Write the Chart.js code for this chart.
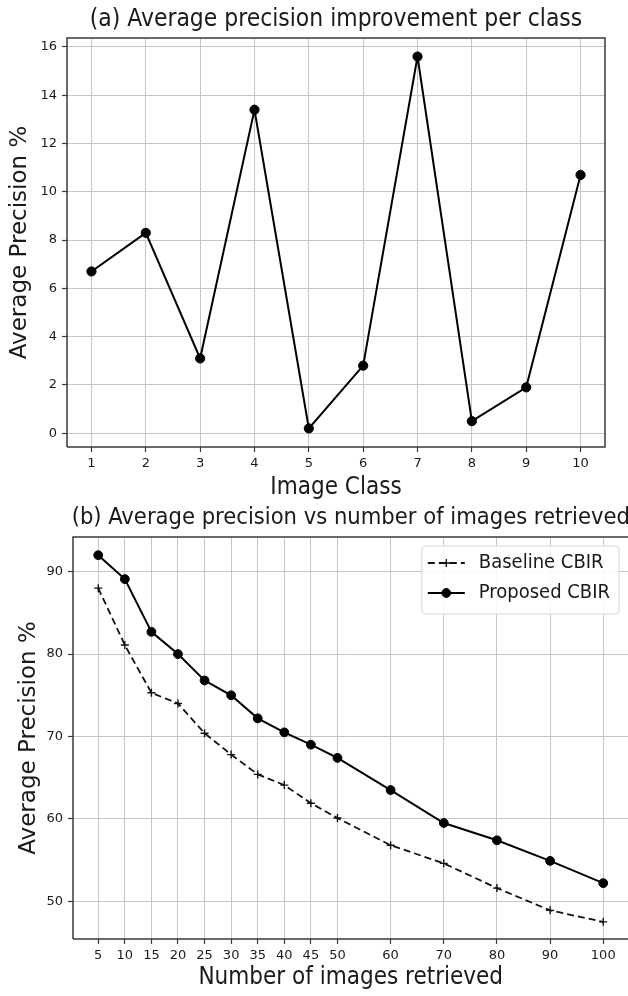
<!DOCTYPE html>
<html>
<head>
<meta charset="utf-8">
<script src="https://cdn.jsdelivr.net/npm/chart.js@4.4.1/dist/chart.umd.min.js"></script>
<style>
  html, body { margin: 0; padding: 0; background: #fff; }
  body { width: 628px; height: 996px; position: relative; overflow: hidden; }
  .box { position: absolute; left: 0; }
  #boxA { top: 0; width: 628px; height: 505px; }
  /* plot (b) runs off the right edge like the original figure */
  #boxB { top: 500px; width: 640px; height: 496px; }
</style>
</head>
<body>
<div class="box" id="boxA"><canvas id="chartA"></canvas></div>
<div class="box" id="boxB"><canvas id="chartB"></canvas></div>
<script>
// (a) improvement per class
const classes = [1, 2, 3, 4, 5, 6, 7, 8, 9, 10];
const improvement = [6.7, 8.3, 3.1, 13.4, 0.2, 2.8, 15.6, 0.5, 1.9, 10.7];
const yTicksA = [0, 2, 4, 6, 8, 10, 12, 14, 16];

// (b) precision vs number retrieved
const retrieved = [5, 10, 15, 20, 25, 30, 35, 40, 45, 50, 60, 70, 80, 90, 100];
const baseline = [88.0, 81.1, 75.3, 74.0, 70.4, 67.8, 65.4, 64.1, 61.9, 60.1, 56.8, 54.6, 51.6, 48.9, 47.5];
const proposed = [92.0, 89.1, 82.7, 80.0, 76.8, 75.0, 72.2, 70.5, 69.0, 67.4, 63.5, 59.5, 57.4, 54.9, 52.2];
const yTicksB = [50, 60, 70, 80, 90];

const COND = "'DejaVu Sans Condensed', 'DejaVu Sans', sans-serif";
const SANS = "'DejaVu Sans', sans-serif";
const INK = '#1a1a1a';
const GRID = '#c6c6c6';
const FRAME = '#3a3a3a';

// titles centred over the plot + frame sides the scales don't draw
const framePlugin = {
    id: 'frame',
    afterDraw(chart, args, opts) {
        let ctx = chart.ctx
        let a = chart.chartArea
        ctx.save()
        ctx.fillStyle = INK
        ctx.font = opts.titleFont
        ctx.textAlign = 'center'
        ctx.textBaseline = 'middle'
        ctx.fillText(opts.title, (a.left + a.right) / 2, opts.titleY)

        ctx.strokeStyle = FRAME
        ctx.lineWidth = 1.5
        ctx.beginPath()
        ctx.moveTo(a.left, a.bottom)
        ctx.lineTo(a.left, a.top)
        ctx.lineTo(a.right, a.top)
        if (opts.right) { ctx.lineTo(a.right, a.bottom) }
        else { ctx.moveTo(a.right, a.bottom) }
        ctx.lineTo(a.left, a.bottom)
        ctx.stroke()
        ctx.restore()
    }
}

// matplotlib-like legend box (line + marker sample)
const boxLegend = {
    id: 'boxLegend',
    afterDraw(chart, args, opts) {
        if (!opts.show) return
        let ctx = chart.ctx
        let a = chart.chartArea
        let sets = chart.data.datasets
        ctx.save()
        ctx.font = opts.font
        let textW = Math.max(...sets.map(d => ctx.measureText(d.label).width))
        let w = 6 + 37 + 14 + textW + 9
        let h = 68
        let x = Math.min(a.right, 628) - 9 - w
        let y = a.top + 9
        ctx.fillStyle = 'rgba(255,255,255,0.85)'
        ctx.strokeStyle = '#d6d6d6'
        ctx.lineWidth = 1
        ctx.beginPath()
        ctx.roundRect(x, y, w, h, 4)
        ctx.fill()
        ctx.stroke()

        sets.forEach((d, i) => {
            let cy = y + 17 + i * 30
            ctx.strokeStyle = d.borderColor
            ctx.lineWidth = d.borderWidth
            ctx.setLineDash(d.borderDash || [])
            ctx.beginPath()
            ctx.moveTo(x + 6, cy)
            ctx.lineTo(x + 43, cy)
            ctx.stroke()
            ctx.setLineDash([])
            ctx.fillStyle = d.pointBackgroundColor
            ctx.strokeStyle = d.pointBorderColor
            ctx.lineWidth = d.pointBorderWidth
            Chart.helpers.drawPoint(ctx, { pointStyle: d.pointStyle, radius: d.pointRadius, borderWidth: d.pointBorderWidth, rotation: 0 }, x + 24.5, cy)
            ctx.fillStyle = INK
            ctx.textAlign = 'left'
            ctx.textBaseline = 'middle'
            ctx.fillText(d.label, x + 57, cy)
        })
        ctx.restore()
    }
}

function axis(opts) {
    return {
        type: 'linear',
        min: opts.min,
        max: opts.max,
        afterBuildTicks: s => { s.ticks = opts.ticks.map(v => ({ value: v })) },
        afterFit: s => {
            if (opts.width) s.width = opts.width
            if (opts.height) s.height = opts.height
        },
        border: { display: false },
        grid: { color: GRID, lineWidth: 1, drawTicks: true, tickLength: 5, tickColor: FRAME, tickWidth: 1.2 },
        ticks: { color: INK, padding: opts.tickPad, font: { family: SANS, size: 13 }, maxRotation: 0, autoSkip: false },
        title: {
            display: true,
            text: opts.title,
            color: INK,
            font: { family: opts.titleFamily, size: opts.titleSize, lineHeight: 1.2 },
            padding: opts.titlePad
        }
    }
}

function makeChart(id, datasets, scales, layoutPad, frameOpts, legendOpts) {
    return new Chart(document.getElementById(id), {
        type: 'line',
        data: { datasets: datasets },
        options: {
            responsive: true,
            maintainAspectRatio: false,
            animation: false,
            devicePixelRatio: 1,
            layout: { padding: layoutPad },
            plugins: {
                legend: { display: false },
                tooltip: { enabled: false },
                frame: frameOpts,
                boxLegend: legendOpts
            },
            scales: scales
        },
        plugins: [framePlugin, boxLegend]
    })
}

makeChart('chartA', [{
    label: 'Improvement',
    data: classes.map((c, i) => ({ x: c, y: improvement[i] })),
    borderColor: '#000',
    borderWidth: 2,
    pointStyle: 'circle',
    pointRadius: 4.6,
    pointBorderWidth: 1,
    pointBackgroundColor: '#000',
    pointBorderColor: '#000',
    tension: 0
}], {
    x: axis({ min: 0.55, max: 10.45, ticks: classes, height: 58, tickPad: 4, title: 'Image Class', titleFamily: COND, titleSize: 24, titlePad: { top: 0, bottom: 3 } }),
    y: axis({ min: -0.57, max: 16.37, ticks: yTicksA, width: 67, tickPad: 5, title: 'Average Precision %', titleFamily: SANS, titleSize: 23, titlePad: { top: 6, bottom: 0 } })
}, { top: 38, right: 23, left: 0, bottom: 0 },
{ title: '(a) Average precision improvement per class', titleFont: '24.4px ' + COND, titleY: 20, right: true },
{ show: false })

makeChart('chartB', [{
    label: 'Baseline CBIR',
    data: retrieved.map((r, i) => ({ x: r, y: baseline[i] })),
    borderColor: '#111',
    borderWidth: 1.8,
    borderDash: [7, 4],
    pointStyle: 'cross',
    pointRadius: 4,
    pointBorderWidth: 1.4,
    pointBackgroundColor: '#111',
    pointBorderColor: '#111',
    tension: 0
}, {
    label: 'Proposed CBIR',
    data: retrieved.map((r, i) => ({ x: r, y: proposed[i] })),
    borderColor: '#000',
    borderWidth: 2,
    pointStyle: 'circle',
    pointRadius: 4.4,
    pointBorderWidth: 1,
    pointBackgroundColor: '#000',
    pointBorderColor: '#000',
    tension: 0
}], {
    x: axis({ min: 0.25, max: 104.75, ticks: retrieved, height: 57, tickPad: 4, title: 'Number of images retrieved', titleFamily: COND, titleSize: 24, titlePad: { top: 0, bottom: 4 } }),
    y: axis({ min: 45.42, max: 94.21, ticks: yTicksB, width: 73, tickPad: 5, title: 'Average Precision %', titleFamily: SANS, titleSize: 23, titlePad: { top: 15, bottom: 0 } })
}, { top: 37, right: 11.5, left: 0, bottom: 0 },
{ title: '(b) Average precision vs number of images retrieved', titleFont: '23.5px ' + COND, titleY: 18, right: false },
{ show: true, font: '20px ' + COND })
</script>
</body>
</html>
